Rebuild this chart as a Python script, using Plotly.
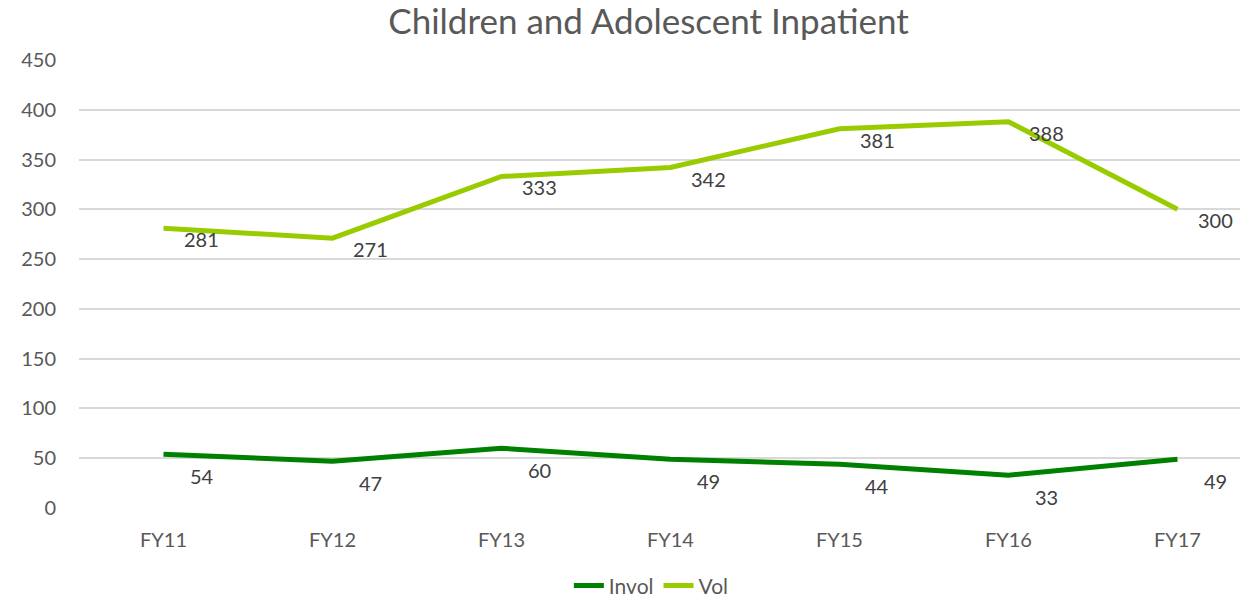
import plotly.graph_objects as go

categories = ["FY11", "FY12", "FY13", "FY14", "FY15", "FY16", "FY17"]
invol = [54, 47, 60, 49, 44, 33, 49]
vol = [281, 271, 333, 342, 381, 388, 300]
y_ticks = [0, 50, 100, 150, 200, 250, 300, 350, 400, 450]

FONT = "Lato, Open Sans, sans-serif"
GREY = "#595959"
C_INVOL = "#008000"
C_VOL = "#99CC00"

fig = go.Figure()
fig.add_trace(go.Scatter(x=categories, y=invol, mode="lines", name="Invol",
                         line=dict(color=C_INVOL, width=5)))
fig.add_trace(go.Scatter(x=categories, y=vol, mode="lines", name="Vol",
                         line=dict(color=C_VOL, width=5)))

annotations = []
for series, dy in ((invol, -22), (vol, -11)):
    for c, v in zip(categories, series):
        annotations.append(dict(x=c, y=v, text=str(v), showarrow=False,
                                xshift=38, yshift=dy,
                                font=dict(family=FONT, size=20, color="#404040")))

fig.update_layout(
    width=1240, height=598,
    margin=dict(l=79, r=0, t=60, b=90, autoexpand=False),
    paper_bgcolor="white", plot_bgcolor="white",
    title=dict(text="Children and Adolescent Inpatient", x=0.523, xref="container",
               y=0.963, yref="container", xanchor="center", yanchor="middle",
               font=dict(family=FONT, size=35, color=GREY)),
    xaxis=dict(type="category", range=[-0.5, 6.37], showgrid=False, showline=False,
               ticks="", automargin=False, ticklabelstandoff=18,
               tickfont=dict(family=FONT, size=20, color=GREY)),
    yaxis=dict(range=[0, 450], tickvals=y_ticks, showgrid=True, gridcolor="#D9D9D9",
               gridwidth=1.5, zeroline=False, showline=False, ticks="",
               automargin=False, ticklabelstandoff=22,
               tickfont=dict(family=FONT, size=20, color=GREY)),
    legend=dict(orientation="h", x=0.493, xanchor="center", y=-0.174, yanchor="middle",
                font=dict(family=FONT, size=21, color=GREY)),
    annotations=annotations,
    showlegend=True,
)

fig.write_html("out.html", config={"displayModeBar": False},
               post_script="document.body.style.margin='0';document.body.style.overflow='hidden';")
